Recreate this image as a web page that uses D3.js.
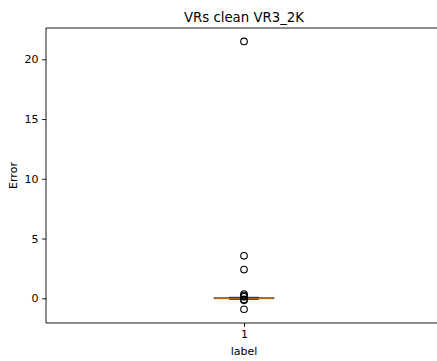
<!DOCTYPE html>
<html>
<head>
<meta charset="utf-8">
<script src="https://cdn.jsdelivr.net/npm/d3@7"></script>
<style>
  html, body { margin: 0; padding: 0; background: #fff; overflow: hidden; }
  svg { display: block; }
  text { font-family: "DejaVu Sans", sans-serif; fill: #000; }
</style>
</head>
<body>
<svg id="chart" width="437" height="361"></svg>
<script>
// Box-plot of error values for a single label
const categories = ["1"];
const positions = [1];
const medians = [0.0];
const q1s = [-0.03];
const q3s = [0.03];
const whiskerLows = [-0.08];
const whiskerHighs = [0.08];
const outliers = [21.5, 3.55, 2.4, 0.35, 0.22, 0.12, -0.1, -0.17, -0.92];
const yTicks = [0, 5, 10, 15, 20];

const W = 437;
const margin = { left: 46, top: 28 };
const plotW = 396, plotH = 295;

const svg = d3.select("#chart");

const x = d3.scaleLinear().domain([0.5, 1.5]).range([margin.left, margin.left + plotW]);
const y = d3.scaleLinear().domain([-2.07, 22.62]).range([margin.top + plotH, margin.top]);

const lw = 0.9;
const boxHalf = 0.075;

// Spines; the axes run past the right edge of the canvas
const xEnd = Math.min(x(1.5), W);
const spines = [
  [x(0.5), y.range()[0], x(0.5), y.range()[1]],
  [x(0.5), y.range()[1], xEnd, y.range()[1]],
  [x(0.5), y.range()[0], xEnd, y.range()[0]]
];
svg.append("g").selectAll("line").data(spines).join("line")
  .attr("x1", d => d[0]).attr("y1", d => d[1]).attr("x2", d => d[2]).attr("y2", d => d[3])
  .attr("stroke", "#000").attr("stroke-width", lw);

// Y axis
const yAxis = d3.axisLeft(y).tickValues(yTicks).tickSize(3.9).tickPadding(3.5).tickFormat(d3.format("d"));
const ya = svg.append("g").attr("transform", `translate(${margin.left},0)`).call(yAxis);
ya.select(".domain").remove();
ya.selectAll(".tick line").attr("stroke", "#000").attr("stroke-width", lw);
ya.selectAll(".tick text").style("font-family", "DejaVu Sans").style("font-size", "11px").attr("fill", "#000");

// X axis
const xAxis = d3.axisBottom(x).tickValues(positions).tickSize(3.9).tickPadding(3.5).tickFormat((d, i) => categories[i]);
const xa = svg.append("g").attr("transform", `translate(0,${margin.top + plotH})`).call(xAxis);
xa.select(".domain").remove();
xa.selectAll(".tick line").attr("stroke", "#000").attr("stroke-width", lw);
xa.selectAll(".tick text").style("font-family", "DejaVu Sans").style("font-size", "11px").attr("fill", "#000");

// Boxes
positions.forEach((p, i) => {
  const bg = svg.append("g");
  // whiskers
  bg.append("line").attr("x1", x(p)).attr("x2", x(p)).attr("y1", y(q1s[i])).attr("y2", y(whiskerLows[i]))
    .attr("stroke", "#000").attr("stroke-width", lw);
  bg.append("line").attr("x1", x(p)).attr("x2", x(p)).attr("y1", y(q3s[i])).attr("y2", y(whiskerHighs[i]))
    .attr("stroke", "#000").attr("stroke-width", lw);
  // caps
  [whiskerLows[i], whiskerHighs[i]].forEach(v => {
    bg.append("line").attr("x1", x(p - boxHalf / 2)).attr("x2", x(p + boxHalf / 2))
      .attr("y1", y(v)).attr("y2", y(v)).attr("stroke", "#000").attr("stroke-width", lw);
  });
  // box
  bg.append("rect")
    .attr("x", x(p - boxHalf)).attr("width", x(p + boxHalf) - x(p - boxHalf))
    .attr("y", y(q3s[i])).attr("height", Math.max(0.5, y(q1s[i]) - y(q3s[i])))
    .attr("fill", "none").attr("stroke", "#000").attr("stroke-width", lw);
  // median
  bg.append("line").attr("x1", x(p - boxHalf)).attr("x2", x(p + boxHalf))
    .attr("y1", y(medians[i])).attr("y2", y(medians[i]))
    .attr("stroke", "#ff7f0e").attr("stroke-width", 1.1);
  // fliers
  bg.selectAll("circle").data(outliers).join("circle")
    .attr("cx", x(p)).attr("cy", d => y(d)).attr("r", 3.3)
    .attr("fill", "none").attr("stroke", "#000").attr("stroke-width", 1.1);
});

// Title and labels
svg.append("text").attr("x", margin.left + plotW / 2).attr("y", 22)
  .attr("text-anchor", "middle").style("font-size", "13.3px").text("VRs clean VR3_2K");
svg.append("text").attr("x", margin.left + plotW / 2).attr("y", 355)
  .attr("text-anchor", "middle").style("font-size", "11px").text("label");
svg.append("text").attr("transform", `translate(17,${margin.top + plotH / 2}) rotate(-90)`)
  .attr("text-anchor", "middle").style("font-size", "11px").text("Error");
</script>
</body>
</html>
